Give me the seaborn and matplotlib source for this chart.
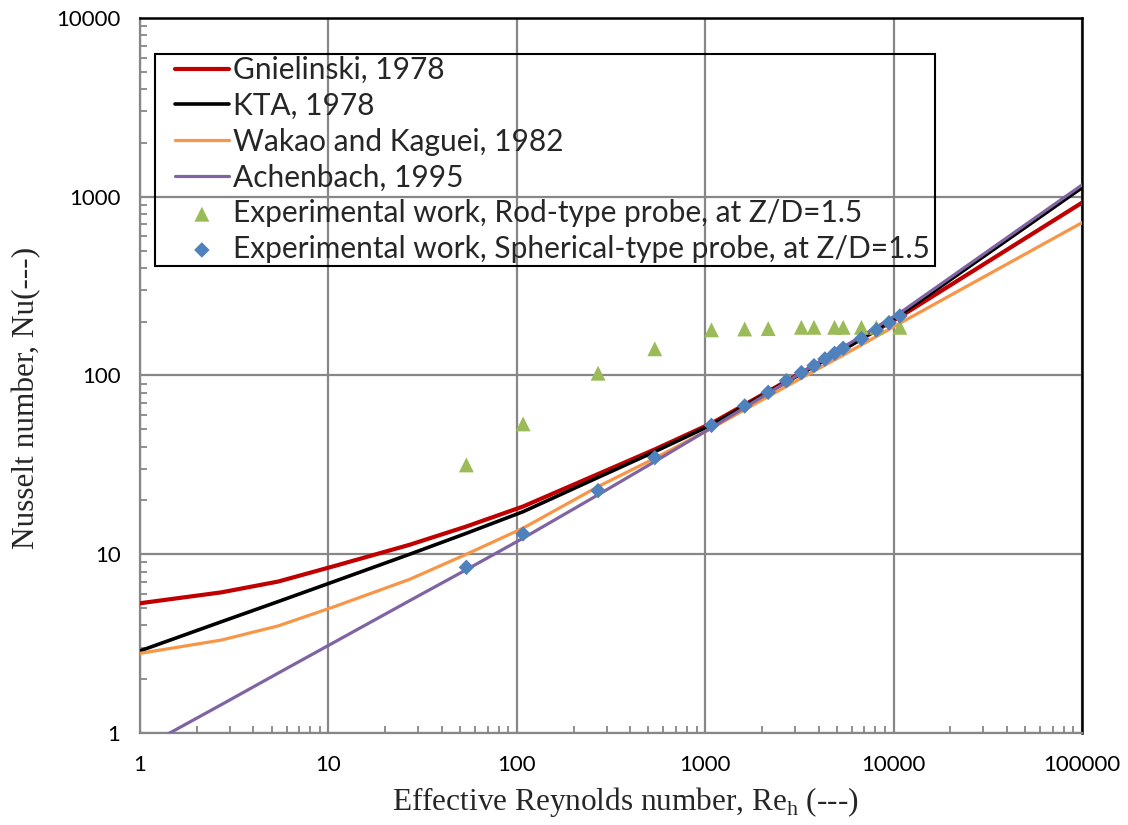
import matplotlib
matplotlib.use("Agg")
import matplotlib.pyplot as plt
from matplotlib.patches import Rectangle
from matplotlib.ticker import LogLocator, NullFormatter, FixedLocator, FixedFormatter
import seaborn as sns
import pandas as pd

# Correlation curves (Nu vs effective Reynolds number)
re_curve = [1, 2.7, 5.4, 10.8, 27, 54, 108, 270, 540, 1080, 2700, 5400, 10800, 100000]
nu_gnielinski = [5.32, 6.12, 7.03, 8.6, 11.3, 14.3, 18.5, 28.1, 38.6, 54.0, 93.0, 140.0, 213.0, 926.0]
nu_kta = [2.88, 4.19, 5.43, 7.06, 10.0, 13.1, 17.3, 26.9, 37.5, 52.9, 92.0, 139.0, 218.0, 1124.0]
nu_wakao = [2.79, 3.31, 3.97, 5.1, 7.24, 10.0, 14.0, 23.9, 34.4, 50.7, 87.0, 130.0, 196.0, 716.0]
nu_achenbach = [0.81, 1.44, 2.16, 3.23, 5.5, 8.2, 12.3, 21.5, 33.0, 51.0, 92.0, 144.0, 224.0, 1164.0]

# Experimental work, rod-type probe
re_rod = [54, 108, 270, 540, 1080, 1620, 2160, 3240, 3780, 4860, 5400, 6750, 8100, 10800]
nu_rod = [31.6, 53.6, 103, 141, 180, 182, 183, 186, 186, 186, 186, 186, 186, 186]

# Experimental work, spherical-type probe
re_sph = [54, 108, 270, 540, 1080, 1620, 2160, 2700, 3240, 3780, 4320, 4860, 5400, 6750, 8100, 9450, 10800]
nu_sph = [8.45, 13.0, 22.7, 34.7, 52.6, 67.5, 80.5, 93.5, 103.7, 113.5, 123.7, 133, 142, 160.7, 179.8, 197.4, 215.3]

x_ticks = [1, 10, 100, 1000, 10000, 100000]
x_ticklabels = ["1", "10", "100", "1000", "10000", "100000"]
y_ticks = [1, 10, 100, 1000, 10000]
y_ticklabels = ["1", "10", "100", "1000", "10000"]

sns.set_style("white")
plt.rcParams["font.family"] = ["Lato", "DejaVu Sans"]
plt.rcParams["mathtext.fontset"] = "custom"
plt.rcParams["mathtext.rm"] = "Liberation Serif"

grid_col = "#878787"

fig = plt.figure(figsize=(11.28, 8.25), dpi=100)
ax = fig.add_axes([140 / 1128, 1 - 733 / 825, (1082 - 140) / 1128, (733 - 18) / 825])
ax.set_xscale("log")
ax.set_yscale("log")

curves = [
    ("Gnielinski, 1978", nu_gnielinski, "#C00000", 3.0),
    ("KTA, 1978", nu_kta, "#000000", 2.6),
    ("Wakao and Kaguei, 1982", nu_wakao, "#F79646", 2.3),
    ("Achenbach, 1995", nu_achenbach, "#8064A2", 2.3),
]
for label, vals, col, lw in curves:
    df = pd.DataFrame({"Re": re_curve, "Nu": vals})
    sns.lineplot(data=df, x="Re", y="Nu", ax=ax, color=col, lw=lw, label=label,
                 sort=False, estimator=None, zorder=3)

sns.scatterplot(x=re_rod, y=nu_rod, ax=ax, marker="^", s=115, color="#9BBB59",
                edgecolor="none", linewidth=0, zorder=4,
                label="Experimental work, Rod-type probe, at Z/D=1.5")
sns.scatterplot(x=re_sph, y=nu_sph, ax=ax, marker="D", s=62, color="#4F81BD",
                edgecolor="none", linewidth=0, zorder=5,
                label="Experimental work, Spherical-type probe, at Z/D=1.5")

ax.set_xlim(1, 100000)
ax.set_ylim(1, 10000)

# Axis ticks: decade gridlines, inward minor ticks
ax.xaxis.set_major_locator(FixedLocator(x_ticks))
ax.xaxis.set_major_formatter(FixedFormatter(x_ticklabels))
ax.yaxis.set_major_locator(FixedLocator(y_ticks))
ax.yaxis.set_major_formatter(FixedFormatter(y_ticklabels))
ax.xaxis.set_minor_locator(LogLocator(base=10, subs=range(2, 10), numticks=20))
ax.yaxis.set_minor_locator(LogLocator(base=10, subs=range(2, 10), numticks=20))
ax.xaxis.set_minor_formatter(NullFormatter())
ax.yaxis.set_minor_formatter(NullFormatter())
ax.tick_params(which="major", length=0, labelsize=16, colors="black")
ax.tick_params(axis="x", which="major", pad=16)
ax.tick_params(axis="y", which="major", pad=14)
ax.tick_params(which="minor", direction="in", length=5, width=1.3, color=grid_col,
               bottom=True, left=True, top=False, right=False)

ax.grid(True, which="major", color=grid_col, lw=1.6, zorder=0)
ax.set_axisbelow(True)

for side in ["left", "bottom"]:
    ax.spines[side].set_color(grid_col)
    ax.spines[side].set_linewidth(1.6)
for side in ["top", "right"]:
    ax.spines[side].set_color("black")
    ax.spines[side].set_linewidth(1.8)

ax.set_xlabel(r"Effective Reynolds number, Re$_\mathregular{h}$ (---)",
              fontfamily="Liberation Serif", fontsize=22.5)
ax.set_ylabel("Nusselt number, Nu(---)", fontfamily="Liberation Serif", fontsize=22.5)
ax.xaxis.set_label_coords((625 - 140) / 942, -(802 - 733) / 715)
ax.yaxis.set_label_coords(-(140 - 27) / 942, (733 - 398) / 715)
ax.xaxis.label.set_verticalalignment("center")
ax.yaxis.label.set_verticalalignment("center")

# Legend: transparent box with a thin black outline
ax.add_patch(Rectangle((15 / 942, 1 - (266 - 18) / 715), (935 - 155) / 942, (266 - 54) / 715,
                       transform=ax.transAxes, facecolor="none", edgecolor="black",
                       lw=1.5, zorder=6, clip_on=False))
leg = ax.legend(loc="upper left", bbox_to_anchor=((175 - 140) / 942, 1 - (56 - 18) / 715),
                fontsize=21.5, frameon=False, handlelength=1.8, handletextpad=0.13,
                labelspacing=0.26, borderpad=0, borderaxespad=0)
leg.set_zorder(7)

fig.savefig("out.png", dpi=100)
